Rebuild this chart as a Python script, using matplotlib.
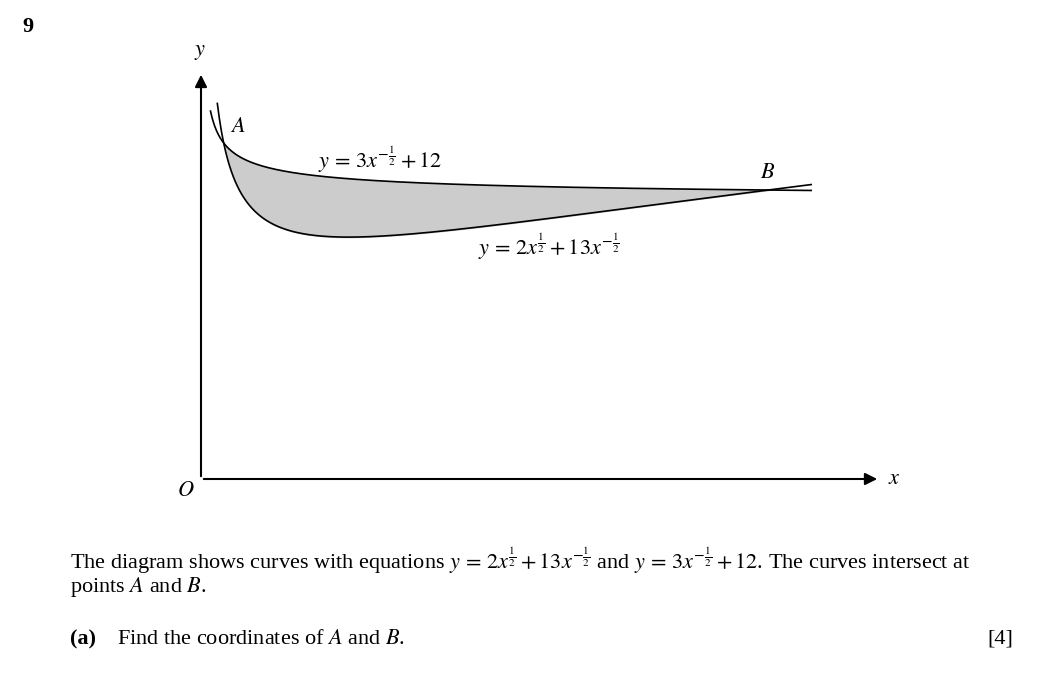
import numpy as np
import matplotlib
matplotlib.use("Agg")
import matplotlib.pyplot as plt

plt.rcParams['font.family'] = ['Liberation Serif', 'DejaVu Serif']
plt.rcParams['mathtext.fontset'] = 'stix'

x_start_upper = 0.42
x_start_lower = 0.72
x_end = 26.9
A = (1, 15.0)
B = (25, 12.6)

W, H = 1038, 676
fig = plt.figure(figsize=(W/100, H/100), dpi=100)
ox, oy = 201, 479
xr, yt = 880, 72
ax = fig.add_axes([ox/W, 1-oy/H, (xr-ox)/W, (oy-yt)/H])
xscale = 22.75
yscale = 19.6
ax.set_xlim(0, (xr-199)/xscale)
ax.set_ylim(15-(oy-143)/yscale, 15+(143-yt)/yscale)
ax.axis('off')

def upper(x): return 3/np.sqrt(x) + 12
def lower(x): return 2*np.sqrt(x) + 13/np.sqrt(x)

xu = np.linspace(x_start_upper, x_end, 600)
xl = np.linspace(x_start_lower, x_end, 600)
ax.plot(xu, upper(xu), color='black', lw=1.2)
ax.plot(xl, lower(xl), color='black', lw=1.2)
xf = np.linspace(1, 25, 400)
ax.fill_between(xf, lower(xf), upper(xf), color='#cccccc')

yb = ax.get_ylim()[0]
ax.annotate('', xy=(ax.get_xlim()[1], yb), xytext=(0, yb),
            arrowprops=dict(arrowstyle='-|>', color='black', lw=1.5, mutation_scale=18))
ax.annotate('', xy=(0, ax.get_ylim()[1]), xytext=(0, yb),
            arrowprops=dict(arrowstyle='-|>', color='black', lw=1.5, mutation_scale=18))

fs = 16
fig.text(22/W, 1-27/H, '9', fontsize=16, fontweight='bold', va='center')
fig.text(200/W, 1-52/H, '$y$', fontsize=fs, ha='center', va='center')
fig.text(888/W, 1-479/H, '$x$', fontsize=fs, ha='left', va='center')
fig.text(186/W, 1-492/H, '$O$', fontsize=fs, ha='center', va='center')
ax.text(A[0]+0.3, A[1]+0.3, '$A$', fontsize=fs, ha='left', va='bottom')
ax.text(B[0], B[1]+0.35, '$B$', fontsize=fs, ha='center', va='bottom')
fig.text(318/W, 1-160/H, r'$y\,=\,3x^{-\frac{1}{2}}+12$', fontsize=fs, va='center')
fig.text(478/W, 1-247/H, r'$y\,=\,2x^{\frac{1}{2}}+13x^{-\frac{1}{2}}$', fontsize=fs, va='center')

fig.text(70/W, 1-561/H, r'The diagram shows curves with equations $y\,=\,2x^{\frac{1}{2}}+13x^{-\frac{1}{2}}$ and $y\,=\,3x^{-\frac{1}{2}}+12$. The curves intersect at',
         fontsize=fs, va='center')
fig.text(70/W, 1-587/H, r'points $A$ and $B$.', fontsize=fs, va='center')
fig.text(70/W, 1-639/H, '(a)', fontsize=fs, fontweight='bold', va='center')
fig.text(117/W, 1-639/H, r'Find the coordinates of $A$ and $B$.', fontsize=fs, va='center')
fig.text(1013/W, 1-639/H, '[4]', fontsize=fs, va='center', ha='right')

fig.savefig('out.png', dpi=100, facecolor='white')
